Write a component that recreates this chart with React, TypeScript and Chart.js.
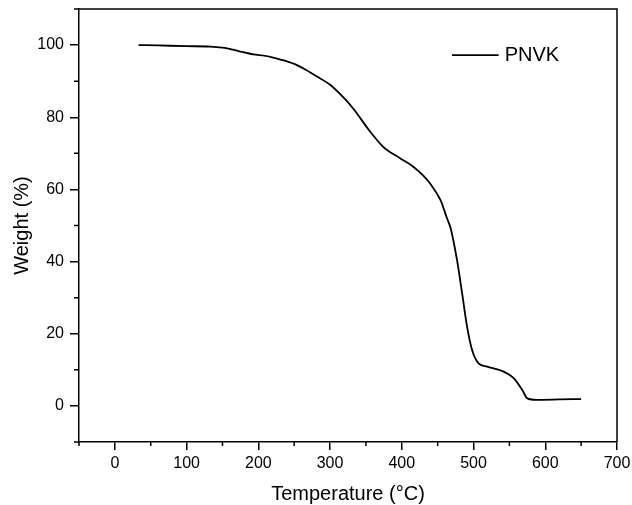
import React, { useEffect, useRef } from "react";
import { Chart, registerables } from "chart.js";

Chart.register(...registerables);

const temperatures = [33, 60, 100, 133, 150, 161, 175, 193, 210, 231, 250, 263, 280, 300, 320, 333, 356, 374, 398, 416, 430, 440, 454, 463, 468, 477, 484, 491, 498, 507, 519, 542, 556, 568, 575, 588, 620, 650];
const weights = [100, 99.9, 99.7, 99.6, 99.3, 98.9, 98.2, 97.4, 97.0, 96.0, 94.8, 93.5, 91.5, 89.0, 85.2, 82.2, 76.0, 71.8, 68.6, 66.3, 63.8, 61.5, 57.0, 52.0, 49.3, 40.4, 31.3, 22.0, 15.5, 11.8, 10.9, 9.5, 7.7, 4.4, 2.1, 1.7, 1.8, 1.9];

const xTickValues = [0, 100, 200, 300, 400, 500, 600, 700];
const yTickValues = [0, 20, 40, 60, 80, 100];
const xMinorTicks = [-50, 50, 150, 250, 350, 450, 550, 650];
const yMinorTicks = [-10, 10, 30, 50, 70, 90, 110];
const seriesLabel = "PNVK";
const xTitle = "Temperature (\u00B0C)";
const yTitle = "Weight (%)";

const FONT = "'Liberation Sans', Arial, sans-serif";

const decorPlugin = {
  id: "decor",
  afterDraw(chart: any) {
    const ctx = chart.ctx;
    const { left, right, top, bottom } = chart.chartArea;
    const xs = chart.scales.x;
    const ys = chart.scales.y;
    ctx.save();
    ctx.strokeStyle = "#000";
    ctx.lineWidth = 1.5;
    // frame top & right
    ctx.beginPath();
    ctx.moveTo(left, top);
    ctx.lineTo(right, top);
    ctx.lineTo(right, bottom);
    ctx.stroke();
    // minor ticks
    ctx.beginPath();
    for (const v of yMinorTicks) {
      const py = ys.getPixelForValue(v);
      ctx.moveTo(left - 5, py);
      ctx.lineTo(left, py);
    }
    for (const v of xMinorTicks) {
      const px = xs.getPixelForValue(v);
      ctx.moveTo(px, bottom);
      ctx.lineTo(px, bottom + 4);
    }
    ctx.stroke();
    // legend
    const ds = chart.data.datasets[0];
    const lx1 = xs.getPixelForValue(470);
    const lx2 = xs.getPixelForValue(535);
    const ly = ys.getPixelForValue(97.2);
    ctx.lineWidth = 1.8;
    ctx.strokeStyle = ds.borderColor;
    ctx.beginPath();
    ctx.moveTo(lx1, ly);
    ctx.lineTo(lx2, ly);
    ctx.stroke();
    ctx.fillStyle = "#000";
    ctx.font = `20px ${FONT}`;
    ctx.textBaseline = "middle";
    ctx.textAlign = "left";
    ctx.fillText(ds.label, lx2 + 6, ly);
    ctx.restore();
  },
};

export default function App() {
  const ref = useRef<HTMLCanvasElement>(null);
  useEffect(() => {
    if (!ref.current) return;
    const chart = new Chart(ref.current, {
      type: "line",
      data: {
        datasets: [
          {
            label: seriesLabel,
            data: temperatures.map((t, i) => ({ x: t, y: weights[i] })),
            borderColor: "#000",
            borderWidth: 1.8,
            pointRadius: 0,
            cubicInterpolationMode: "monotone",
            fill: false,
          },
        ],
      },
      options: {
        responsive: false,
        animation: false,
        layout: { padding: { top: 9, right: 15, left: 0, bottom: 0 } },
        plugins: { legend: { display: false }, tooltip: { enabled: false } },
        scales: {
          x: {
            type: "linear",
            min: -50,
            max: 700,
            afterBuildTicks: (s: any) => {
              s.ticks = xTickValues.map((v) => ({ value: v }));
            },
            afterFit: (s: any) => {
              s.height = 63;
              s.paddingLeft = 0;
              s.paddingRight = 0;
            },
            grid: { display: true, drawOnChartArea: false, drawTicks: true, tickLength: 8, color: "#000", lineWidth: 1.5 },
            border: { display: true, color: "#000", width: 1.5 },
            ticks: { color: "#000", font: { family: FONT, size: 16 }, padding: 4, maxRotation: 0, autoSkip: false },
            title: { display: true, text: xTitle, color: "#000", font: { family: FONT, size: 20, lineHeight: 1 }, padding: { top: 0, bottom: 1 } },
          },
          y: {
            type: "linear",
            min: -10,
            max: 110,
            afterBuildTicks: (s: any) => {
              s.ticks = yTickValues.map((v) => ({ value: v }));
            },
            afterFit: (s: any) => {
              s.width = 79;
              s.paddingTop = 0;
              s.paddingBottom = 0;
            },
            grid: { display: true, drawOnChartArea: false, drawTicks: true, tickLength: 9, color: "#000", lineWidth: 1.5 },
            border: { display: true, color: "#000", width: 1.5 },
            ticks: { color: "#000", font: { family: FONT, size: 16 }, padding: 6, autoSkip: false },
            title: { display: true, text: yTitle, color: "#000", font: { family: FONT, size: 20, lineHeight: 1 }, padding: { top: 12, bottom: 0 } },
          },
        },
      },
      plugins: [decorPlugin],
    } as any);
    return () => chart.destroy();
  }, []);
  return (
    <div style={{ position: "absolute", left: 0, top: 0, width: 632, height: 505, background: "#fff" }}>
      <canvas ref={ref} width={632} height={505} style={{ display: "block" }} />
    </div>
  );
}
